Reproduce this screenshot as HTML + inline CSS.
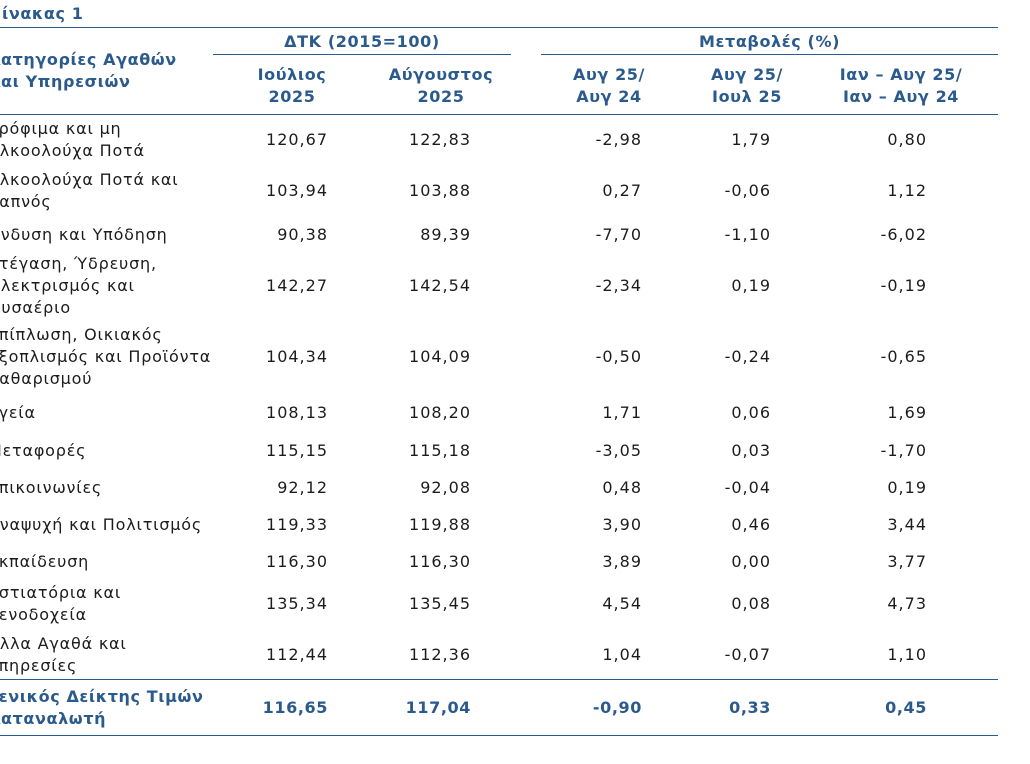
<!DOCTYPE html>
<html><head><meta charset="utf-8"><style>
body{margin:0;width:1030px;height:764px;background:#fff;overflow:hidden;position:relative;font-family:"DejaVu Sans","Liberation Sans",sans-serif;font-size:16px;letter-spacing:0.8px;color:#1c1c1c}
.a{position:absolute;white-space:nowrap;line-height:22px}
.h{color:#2b5a8c;font-weight:bold;letter-spacing:0.6px}
.ln{position:absolute;height:1px;background:#2b5a8c}
.r{text-align:right}.c{text-align:center}
</style></head><body>
<div class="a h" style="left:-12px;top:3px">Πίνακας 1</div>
<div class="ln" style="left:0;width:998px;top:27px"></div>
<div class="a h c" style="left:213px;width:298px;top:31px">ΔΤΚ (2015=100)</div>
<div class="ln" style="left:213px;width:298px;top:54px"></div>
<div class="a h c" style="left:541px;width:457px;top:31px">Μεταβολές (%)</div>
<div class="ln" style="left:541px;width:457px;top:54px"></div>
<div class="a h" style="left:-12px;top:49px">Κατηγορίες Αγαθών<br>Και Υπηρεσιών</div>
<div class="a h c" style="left:222px;width:140px;top:64px">Ιούλιος<br>2025</div>
<div class="a h c" style="left:371px;width:140px;top:64px">Αύγουστος<br>2025</div>
<div class="a h c" style="left:539px;width:140px;top:64px">Αυγ 25/<br>Αυγ 24</div>
<div class="a h c" style="left:677px;width:140px;top:64px">Αυγ 25/<br>Ιουλ 25</div>
<div class="a h c" style="left:816px;width:170px;top:64px">Ιαν – Αυγ 25/<br>Ιαν – Αυγ 24</div>
<div class="ln" style="left:0;width:998px;top:114px"></div>
<div class="ln" style="left:0;width:998px;top:679px"></div>
<div class="ln" style="left:0;width:998px;top:735px"></div>
<div id="rows"></div>
<script>
const labels=["Τρόφιμα και μη<br>Αλκοολούχα Ποτά","Αλκοολούχα Ποτά και<br>Καπνός","Ένδυση και Υπόδηση","Στέγαση, Ύδρευση,<br>Ηλεκτρισμός και<br>Φυσαέριο","Επίπλωση, Οικιακός<br>Εξοπλισμός και Προϊόντα<br>Καθαρισμού","Υγεία","Μεταφορές","Επικοινωνίες","Αναψυχή και Πολιτισμός","Εκπαίδευση","Εστιατόρια και<br>Ξενοδοχεία","Άλλα Αγαθά και<br>Υπηρεσίες","Γενικός Δείκτης Τιμών<br>Καταναλωτή"];
const july=["120,67","103,94","90,38","142,27","104,34","108,13","115,15","92,12","119,33","116,30","135,34","112,44","116,65"];
const aug=["122,83","103,88","89,39","142,54","104,09","108,20","115,18","92,08","119,88","116,30","135,45","112,36","117,04"];
const yoy=["-2,98","0,27","-7,70","-2,34","-0,50","1,71","-3,05","0,48","3,90","3,89","4,54","1,04","-0,90"];
const mom=["1,79","-0,06","-1,10","0,19","-0,24","0,06","0,03","-0,04","0,46","0,00","0,08","-0,07","0,33"];
const ytd=["0,80","1,12","-6,02","-0,19","-0,65","1,69","-1,70","0,19","3,44","3,77","4,73","1,10","0,45"];
const centers=[140,191,235,286,357,413,451,488,525,562,604,655,708];
const cols=[[july,328,'july'],[aug,471,'august'],[yoy,642,'yoy'],[mom,771,'mom'],[ytd,927,'ytd']];
const host=document.getElementById('rows');
labels.forEach((lab,i)=>{
  const total=i===labels.length-1;
  const n=lab.split('<br>').length;
  const d=document.createElement('div');
  d.className='a'+(total?' h':'');
  d.style.left='-12px';d.style.top=(centers[i]-n*11)+'px';
  d.innerHTML=lab;
  
  
  host.appendChild(d);
  cols.forEach(([arr,right,nm])=>{
    const v=document.createElement('div');
    v.className='a r'+(total?' h':'');
    v.style.left=(right-120)+'px';v.style.width='120px';v.style.top=(centers[i]-11)+'px';
    v.style.letterSpacing=total?'0.6px':'1px';
    v.textContent=arr[i];
    
    
    host.appendChild(v);
  });
});
</script>
</body></html>
